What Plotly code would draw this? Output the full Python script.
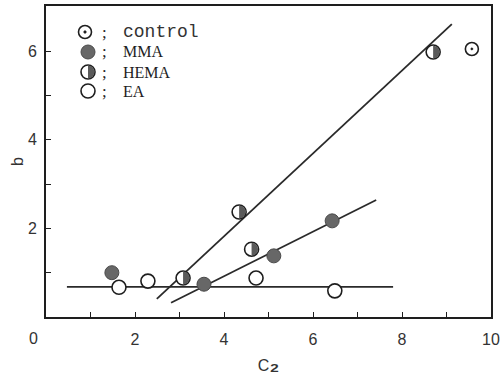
import plotly.graph_objects as go

# Measured series: concentration C2 vs parameter b
control_x = [9.57]
control_y = [6.05]

mma_x = [1.48, 3.55, 5.12, 6.43]
mma_y = [1.00, 0.74, 1.38, 2.17]

hema_x = [3.08, 4.34, 4.62, 8.70]
hema_y = [0.88, 2.37, 1.53, 5.98]

ea_x = [1.64, 2.29, 4.72, 6.49]
ea_y = [0.67, 0.81, 0.88, 0.59]

# Fitted straight lines (end points)
fit_ea_x = [0.47, 7.80]
fit_ea_y = [0.68, 0.68]
fit_hema_x = [2.49, 9.12]
fit_hema_y = [0.41, 6.61]
fit_mma_x = [2.81, 7.42]
fit_mma_y = [0.32, 2.64]

# Axis ticks: labelled major ticks and unlabelled minor ticks
x_major = [2, 4, 6, 8, 10]
x_minor = [1, 3, 5, 7, 9]
y_major = [2, 4, 6]
y_minor = [1, 3, 5]

legend_names = ["control", "MMA", "HEMA", "EA"]

W, H = 501, 376
M_L, M_R, M_T, M_B = 46, 10, 6, 59

INK = "#1e1e1e"
GRAY_FILL = "#676767"
HALF_FILL = "#5a5a5a"
TICK_FONT = dict(family="Liberation Sans", size=16, color="#333333")

MARKERS = {
    "control": dict(symbol="circle-dot", size=13, color="white",
                    line=dict(color=INK, width=1.6)),
    "MMA": dict(symbol="circle", size=14, color=GRAY_FILL,
                line=dict(color="#4a4a4a", width=1)),
    "HEMA": dict(symbol="circle", size=14, color="white",
                 line=dict(color=INK, width=1.6)),
    "EA": dict(symbol="circle", size=14, color="white",
               line=dict(color=INK, width=1.6)),
}


def half_disc(r):
    """Right half of a disc, in pixels around an anchor point."""
    k = 0.5523 * r
    return (f"M 0,{-r} C {k:.2f},{-r} {r},{-k:.2f} {r},0 "
            f"C {r},{k:.2f} {k:.2f},{r} 0,{r} Z")


def paper_x(px):
    return (px - M_L) / (W - M_L - M_R)


def paper_y(py):
    return (H - M_B - py) / (H - M_T - M_B)


def disc_shape(xref, yref, xa, ya, r, fill, lc, lw):
    return dict(type="circle", xref=xref, yref=yref, xsizemode="pixel",
                ysizemode="pixel", xanchor=xa, yanchor=ya,
                x0=-r, x1=r, y0=-r, y1=r, fillcolor=fill,
                line=dict(color=lc, width=lw), layer="above")


def half_shape(xref, yref, xa, ya):
    return dict(type="path", xref=xref, yref=yref, xsizemode="pixel",
                ysizemode="pixel", xanchor=xa, yanchor=ya,
                path=half_disc(6.4), fillcolor=HALF_FILL,
                line=dict(width=0), layer="above")


fig = go.Figure()

line_style = dict(color="#2a2a2a", width=1.8)
for fx, fy in [(fit_ea_x, fit_ea_y), (fit_hema_x, fit_hema_y), (fit_mma_x, fit_mma_y)]:
    fig.add_trace(go.Scatter(x=fx, y=fy, mode="lines", line=line_style,
                             hoverinfo="skip", showlegend=False))

for name, xs, ys in [("EA", ea_x, ea_y), ("MMA", mma_x, mma_y),
                     ("HEMA", hema_x, hema_y), ("control", control_x, control_y)]:
    fig.add_trace(go.Scatter(x=xs, y=ys, mode="markers", name=name,
                             marker=MARKERS[name], showlegend=False))

shapes = [half_shape("x", "y", hx, hy) for hx, hy in zip(hema_x, hema_y)]

# Key in the upper-left corner (page pixel positions)
key_rows = [32, 52, 72, 91]
key_cols = [85, 88, 88, 88]
annotations = []
for name, key_x, ky in zip(legend_names, key_cols, key_rows):
    kx, kyp = paper_x(key_x), paper_y(ky)
    m = MARKERS[name]
    r = m["size"] / 2
    shapes.append(disc_shape("paper", "paper", kx, kyp, r, m["color"],
                             m["line"]["color"], m["line"]["width"]))
    if name == "HEMA":
        shapes.append(half_shape("paper", "paper", kx, kyp))
    if name == "control":
        shapes.append(disc_shape("paper", "paper", kx, kyp, 1.2, INK, INK, 0.8))
    annotations.append(dict(x=paper_x(104), y=kyp, xref="paper", yref="paper",
                            text=";", showarrow=False, xanchor="center",
                            yanchor="middle",
                            font=dict(family="Liberation Serif", size=17, color=INK)))
    if name == "control":
        fnt = dict(family="Liberation Mono", size=18, color="#333333")
    else:
        fnt = dict(family="Liberation Serif", size=16, color=INK)
    annotations.append(dict(x=paper_x(121), y=kyp, xref="paper", yref="paper",
                            text=name, showarrow=False, xanchor="left",
                            yanchor="middle", font=fnt))

# Shared origin label at the lower-left corner
annotations.append(dict(x=paper_x(33), y=paper_y(338), xref="paper", yref="paper",
                        text="0", showarrow=False, xanchor="center",
                        yanchor="middle", font=TICK_FONT))

minor_style = dict(ticks="inside", ticklen=5, tickwidth=1.3, tickcolor=INK,
                   showgrid=False)

x_title = "C<b><span style='font-size:22px'>₂</span></b>"

fig.update_layout(
    width=W, height=H,
    margin=dict(l=M_L, r=M_R, t=M_T, b=M_B, autoexpand=False),
    paper_bgcolor="white", plot_bgcolor="white",
    xaxis=dict(range=[0, 10], automargin=False, showgrid=False, zeroline=False,
               showline=True, mirror=True, linecolor=INK, linewidth=2,
               ticks="inside", ticklen=5, tickwidth=1.3, tickcolor=INK,
               tickmode="array", tickvals=x_major,
               ticktext=[str(v) for v in x_major],
               ticklabelstandoff=7, tickfont=TICK_FONT,
               minor=dict(tickmode="array", tickvals=x_minor, **minor_style),
               title=dict(text=x_title, font=TICK_FONT, standoff=15)),
    yaxis=dict(range=[0, 7.02], automargin=False, showgrid=False, zeroline=False,
               showline=True, mirror=True, linecolor=INK, linewidth=2,
               ticks="inside", ticklen=5, tickwidth=1.3, tickcolor=INK,
               tickmode="array", tickvals=y_major,
               ticktext=[str(v) for v in y_major],
               ticklabelstandoff=4, tickfont=TICK_FONT,
               minor=dict(tickmode="array", tickvals=y_minor, **minor_style),
               title=dict(text="b", font=TICK_FONT, standoff=0)),
    shapes=shapes,
    annotations=annotations,
    showlegend=False,
)

fig.write_html("out.html")
